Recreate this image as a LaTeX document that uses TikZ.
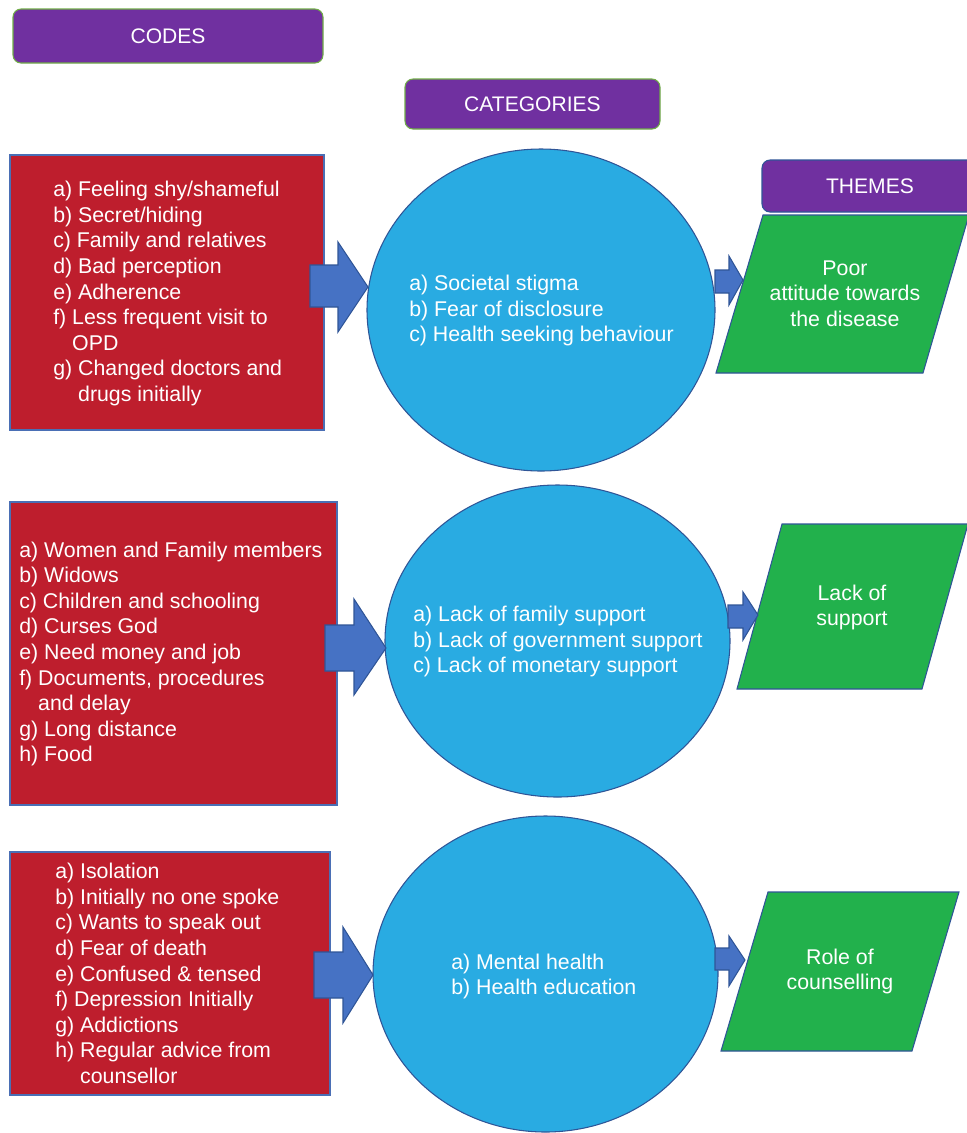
\documentclass[tikz,border=0pt]{standalone}
\usepackage{fontspec}
\setmainfont{Liberation Sans}
\usetikzlibrary{shapes.geometric}
\definecolor{hdpurple}{HTML}{7030A0}
\definecolor{hdgreenline}{HTML}{70AD47}
\definecolor{codered}{HTML}{BE1E2D}
\definecolor{boxline}{HTML}{4A6FB5}
\definecolor{catblue}{HTML}{29ABE2}
\definecolor{darkline}{HTML}{2F5597}
\definecolor{themegreen}{HTML}{22B14C}
\definecolor{arrowblue}{HTML}{4672C4}
\tikzset{
  hdr/.style={draw=hdgreenline, line width=0.8pt, fill=hdpurple, rounded corners=6pt, text=white, font=\fontsize{15.8}{18}\selectfont, inner sep=0pt},
  codebox/.style={draw=boxline, line width=0.8pt, fill=codered, inner sep=0pt, outer sep=0pt},
  catell/.style={ellipse, draw=darkline, line width=0.8pt, fill=catblue, inner sep=0pt, outer sep=0pt},
  theme/.style={draw=darkline, line width=0.8pt, fill=themegreen},
  blockarrow/.style={draw=darkline, line width=0.8pt, fill=arrowblue, line join=miter},
  wtxt/.style={text=white, font=\fontsize{16}{19.2}\selectfont, align=left, inner sep=0pt},
  ctxt/.style={text=white, font=\fontsize{16}{19.2}\selectfont, align=center, inner sep=0pt}
}
% block arrow: shaft left x, shaft top y, shaft bottom y, head base x, head top y, head bottom y, tip x, tip y
\newcommand{\blkarrow}[8]{%
  \draw[blockarrow] (#1,#2) -- (#4,#2) -- (#4,#5) -- (#7,#8) -- (#4,#6) -- (#4,#3) -- (#1,#3) -- cycle;}
\begin{document}
\begin{tikzpicture}[x=0.75pt, y=-0.75pt]
\useasboundingbox (0,0) rectangle (967,1133);

% headers
\node[hdr, minimum width=232.5pt, minimum height=40.5pt] (hcodes) at (168,36) {CODES};
\node[hdr, minimum width=191.25pt, minimum height=37.5pt] (hcat) at (532.5,104) {CATEGORIES};
\draw[draw=darkline, line width=0.8pt, fill=hdpurple, rounded corners=6pt] (762,160) rectangle (985,212);
\node[text=white, font=\fontsize{15.8}{18}\selectfont, inner sep=0pt] (hthemes) at (870,186) {THEMES};

% ---------- row 1 ----------
\node[codebox, minimum width=235.5pt, minimum height=206.25pt] (codes1) at (167,292.5) {};
\node[wtxt, anchor=west] (codes1t) at (53,293.5) {a) Feeling shy/shameful\\ b) Secret/hiding\\ c) Family and relatives\\ d) Bad perception\\ e) Adherence\\ f) Less frequent visit to\\ \hphantom{f) }OPD\\ g) Changed doctors and\\ \hphantom{g) }drugs initially};
\node[catell, minimum width=261pt, minimum height=241.5pt] (cat1) at (541,310) {};
\node[wtxt, anchor=west] (cat1t) at (409,310.5) {a) Societal stigma\\ b) Fear of disclosure\\ c) Health seeking behaviour};
\blkarrow{310}{265}{307}{338}{242}{332}{368}{287}
\draw[theme] (763,215) -- (969,215) -- (923,373) -- (716,373) -- cycle;
\node[ctxt] (theme1) at (845,293.5) {Poor\\ attitude towards\\ the disease};
\blkarrow{715}{270}{293}{729}{256}{305}{743}{280}

% ---------- row 2 ----------
\node[codebox, minimum width=245.25pt, minimum height=227.25pt] (codes2) at (173.5,653.5) {};
\node[wtxt, anchor=west] (codes2t) at (19,654) {a) Women and Family members\\ b) Widows\\ c) Children and schooling\\ d) Curses God\\ e) Need money and job\\ f) Documents, procedures\\ \hphantom{f) }and delay\\ g) Long distance\\ h) Food};
\node[catell, minimum width=258.75pt, minimum height=234pt] (cat2) at (557.5,641) {};
\node[wtxt, anchor=west] (cat2t) at (413,641.5) {a) Lack of family support\\ b) Lack of government support\\ c) Lack of monetary support};
\blkarrow{325}{625}{671}{354}{599}{695}{386}{648}
\draw[theme] (782,524) -- (968,524) -- (922,689) -- (737,689) -- cycle;
\node[ctxt] (theme2) at (852,607.5) {Lack of\\ support};
\blkarrow{728}{605}{628}{743}{592}{640}{758}{615}

% ---------- row 3 ----------
\node[codebox, minimum width=240pt, minimum height=182.25pt] (codes3) at (170,973.5) {};
\node[wtxt, anchor=west] (codes3t) at (55,973.5) {a) Isolation\\ b) Initially no one spoke\\ c) Wants to speak out\\ d) Fear of death\\ e) Confused \& tensed\\ f) Depression Initially\\ g) Addictions\\ h) Regular advice from\\ \hphantom{h) }counsellor};
\node[catell, minimum width=258.75pt, minimum height=237pt] (cat3) at (545.5,974) {};
\node[wtxt, anchor=west] (cat3t) at (451,976.5) {a) Mental health\\ b) Health education};
\blkarrow{314}{952}{998}{343}{927}{1023}{373}{975}
\draw[theme] (768,892) -- (959,892) -- (912,1051) -- (721,1051) -- cycle;
\node[ctxt] (theme3) at (840,971.5) {Role of\\ counselling};
\blkarrow{715}{948}{970}{729}{936}{986}{745}{960}
\end{tikzpicture}
\end{document}
